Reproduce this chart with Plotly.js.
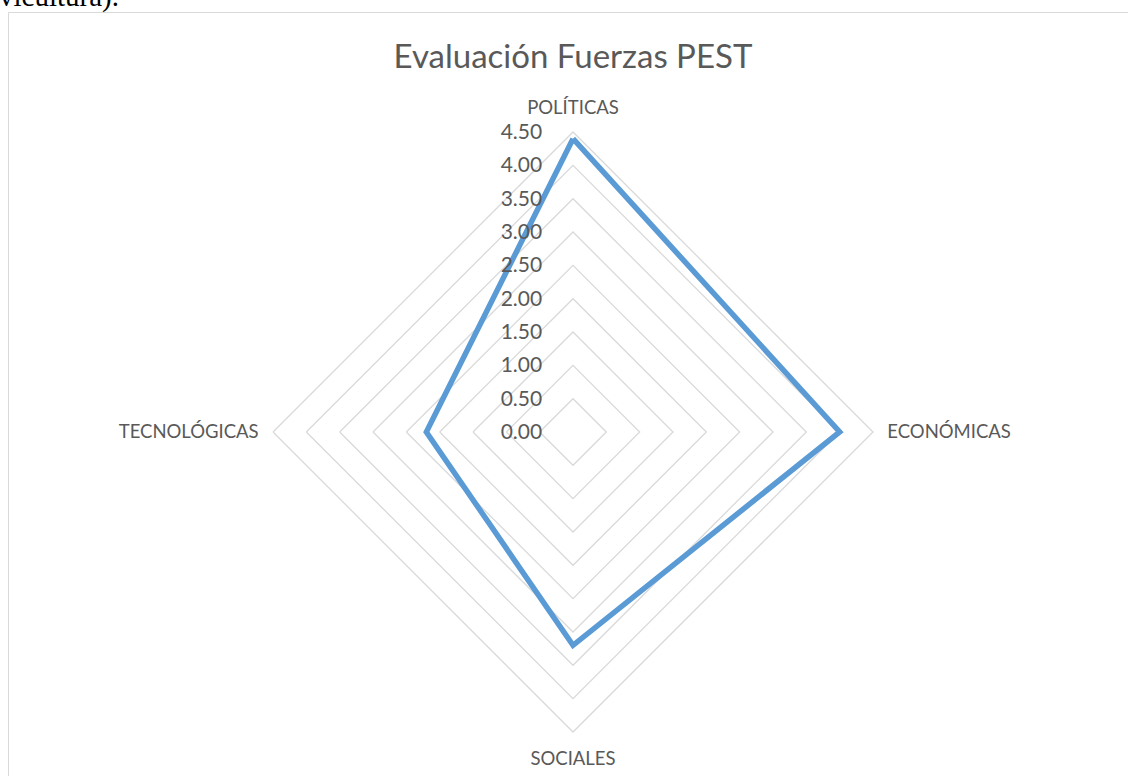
<!DOCTYPE html>
<html>
<head>
<meta charset="utf-8">
<script src="https://cdn.plot.ly/plotly-3.0.1.min.js"></script>
<style>
  html, body { margin: 0; padding: 0; background: #ffffff; overflow: hidden; }
  #wrap { position: relative; width: 1128px; height: 776px; overflow: hidden; }
  #doctext { position: absolute; left: -1px; top: -21px; font-family: "Liberation Serif", "DejaVu Serif", serif; font-size: 29px; line-height: 34px; color: #000; white-space: nowrap; }
  #chart { position: absolute; left: 0; top: 0; width: 1128px; height: 776px; }
</style>
</head>
<body>
<div id="wrap">
  <div id="chart"></div>
  <div id="doctext">vicultura).</div>
</div>
<script>
const categories = ["POLÍTICAS", "ECONÓMICAS", "SOCIALES", "TECNOLÓGICAS"];
const values = [4.40, 4.00, 3.20, 2.20];
const radialTicks = [0, 0.5, 1, 1.5, 2, 2.5, 3, 3.5, 4, 4.5];
const chartTitle = "Evaluación Fuerzas PEST";

const W = 1128, H = 776;
const cx = 573, cy = 432, R = 300;

const trace = {
  type: "scatterpolar",
  r: values.concat([values[0]]),
  theta: categories.concat([categories[0]]),
  mode: "lines",
  line: { color: "#5b9bd5", width: 5.5, shape: "linear" },
  hoverinfo: "skip",
  showlegend: false
};

const layout = {
  width: W, height: H,
  margin: { l: 0, r: 0, t: 0, b: 0 },
  paper_bgcolor: "#ffffff",
  font: { family: "Lato, 'Liberation Sans', sans-serif", color: "#595959" },
  title: {
    text: chartTitle,
    font: { size: 33, color: "#595959", family: "Lato, 'Liberation Sans', sans-serif" },
    x: cx / W, xanchor: "center",
    y: 1 - 56 / H, yanchor: "middle"
  },
  polar: {
    domain: { x: [(cx - R) / W, (cx + R) / W], y: [(H - cy - R) / H, (H - cy + R) / H] },
    gridshape: "linear",
    bgcolor: "rgba(0,0,0,0)",
    angularaxis: {
      type: "category",
      categoryarray: categories,
      direction: "clockwise",
      rotation: 90,
      showgrid: false,
      showline: true,
      linecolor: "#d9d9d9",
      linewidth: 1.3,
      ticks: "outside",
      ticklen: 10,
      tickcolor: "rgba(0,0,0,0)",
      tickfont: { size: 18.5, color: "#595959" }
    },
    radialaxis: {
      range: [0, 4.5],
      tickvals: radialTicks,
      tickformat: ".2f",
      angle: 90,
      side: "counterclockwise",
      showline: false,
      showgrid: true,
      gridcolor: "#d9d9d9",
      gridwidth: 1.3,
      ticks: "outside",
      ticklen: 23,
      tickcolor: "rgba(0,0,0,0)",
      tickangle: 90,
      tickfont: { size: 21, color: "#595959" }
    }
  },
  shapes: [{
    type: "rect", xref: "paper", yref: "paper",
    x0: 8.5 / W, x1: 1.01, y0: -0.01, y1: 1 - 12.5 / H,
    line: { color: "#d9d9d9", width: 1 }, fillcolor: "rgba(0,0,0,0)"
  }]
};

Plotly.newPlot("chart", [trace], layout, { displayModeBar: false, staticPlot: true });
</script>
</body>
</html>
